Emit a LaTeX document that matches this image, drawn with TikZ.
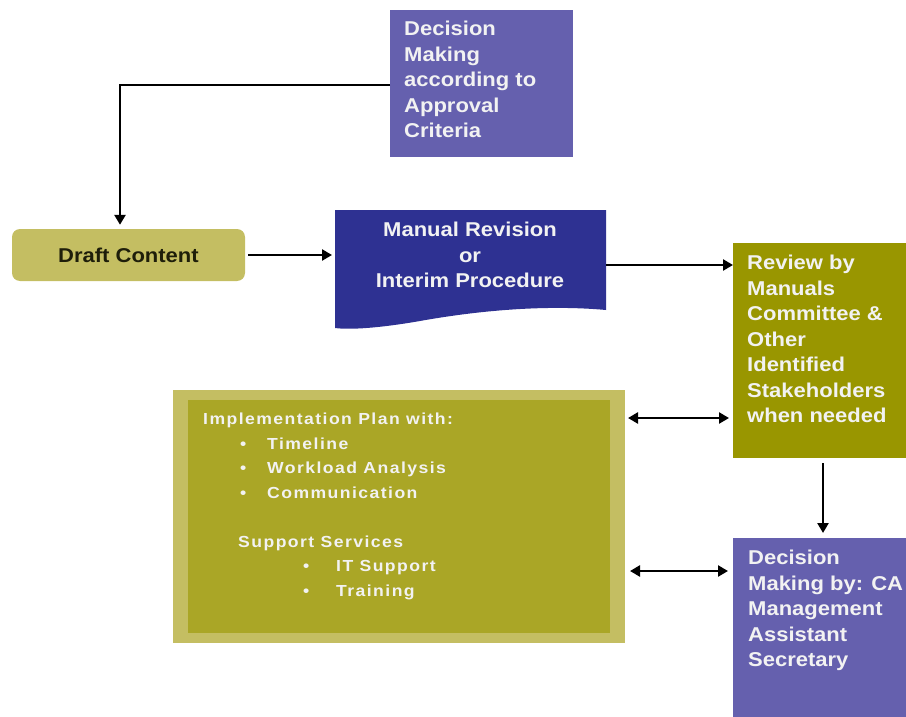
\documentclass[tikz,border=0pt]{standalone}
\usepackage{fontspec}
\setmainfont{Liberation Sans}[FakeStretch=1.1]
\usetikzlibrary{arrows.meta}
\definecolor{purp}{RGB}{101,96,174}
\definecolor{navy}{RGB}{46,49,146}
\definecolor{olivedk}{RGB}{153,150,0}
\definecolor{olivelt}{RGB}{196,190,98}
\definecolor{olivemd}{RGB}{170,166,38}
\definecolor{txtw}{RGB}{242,242,242}
\definecolor{txtd}{RGB}{30,30,10}
\begin{document}
\begin{tikzpicture}[x=1pt,y=-1pt,
  box/.style={inner sep=0pt, outer sep=0pt, draw=none, anchor=north west},
  wtxt/.style={inner sep=0pt, anchor=north west, align=left, text=txtw,
    font=\bfseries\fontsize{20}{25.5}\selectfont},
  arr/.style={line width=2.8pt, -{Triangle[length=10pt,width=11pt]}},
  darr/.style={line width=2.8pt, {Triangle[length=10pt,width=11pt]}-{Triangle[length=10pt,width=11pt]}}]
\useasboundingbox (0,0) rectangle (906,717);
% top decision box
\node[box, fill=purp, minimum width=183pt, minimum height=147pt] (dtop) at (390,10) {};
\node[wtxt] (dtopt) at (404,21) {Decision\\Making\\according to\\Approval\\Criteria};
% draft content
\node[inner sep=0pt, fill=olivelt, rounded corners=8pt, minimum width=233pt, minimum height=52pt,
  text=txtd, font=\bfseries\fontsize{20}{24}\selectfont] (draft) at (128.5,255) {Draft Content};
% manual revision document
\node[box, minimum width=271pt, minimum height=100pt] (man) at (335,210) {};
\fill[navy] (man.north west) -- (man.north east) -- (man.south east)
  .. controls (540,304) and (470,312) .. (420,321)
  .. controls (380,328) and (350,330) .. (335,328) -- cycle;
\node[wtxt, anchor=north, align=center] (mant) at (470,222) {Manual Revision\\or\\Interim Procedure};
% review box
\node[box, fill=olivedk, minimum width=173pt, minimum height=215pt] (rev) at (733,243) {};
\node[wtxt] (revt) at (747,255) {Review by\\Manuals\\Committee \&\\Other\\Identified\\Stakeholders\\when needed};
% implementation plan
\node[box, fill=olivelt, minimum width=452pt, minimum height=253pt] (impl) at (173,390) {};
\node[box, fill=olivemd, minimum width=422pt, minimum height=233pt] (impli) at (188,400) {};
\node[inner sep=0pt, anchor=north west, align=left, text=txtw,
  font=\bfseries\fontsize{16}{24.5}\selectfont\addfontfeature{LetterSpace=9}] (implt) at (203,413)
  {Implementation Plan with:\\
   \hspace*{37pt}\makebox[27pt][l]{\textbullet}Timeline\\
   \hspace*{37pt}\makebox[27pt][l]{\textbullet}Workload Analysis\\
   \hspace*{37pt}\makebox[27pt][l]{\textbullet}Communication\\
   \mbox{}\\
   \hspace*{35pt}Support Services\\
   \hspace*{100pt}\makebox[33pt][l]{\textbullet}IT Support\\
   \hspace*{100pt}\makebox[33pt][l]{\textbullet}Training};
% bottom decision box
\node[box, fill=purp, minimum width=173pt, minimum height=179pt] (dbot) at (733,538) {};
\node[wtxt] (dbott) at (748,550) {Decision\\Making by: CA\\Management\\Assistant\\Secretary};
% connectors
\coordinate (ya) at (0,418);
\coordinate (yb) at (0,571);
\coordinate (xk) at (120,0);
\draw[arr, shorten >=4pt] ([yshift=-1.5pt]dtop.west) -| (xk |- draft.north);
\draw[arr, shorten <=3pt, shorten >=3pt] (draft.east) -- (draft.east -| man.west);
\draw[arr] ([yshift=-5pt]man.east) -- ([yshift=-5pt]man.east -| rev.west);
\draw[darr, shorten <=3pt, shorten >=4pt] (impl.east |- ya) -- (rev.west |- ya);
\draw[darr, shorten <=5pt, shorten >=5pt] (impl.east |- yb) -- (dbot.west |- yb);
\draw[arr, shorten <=5pt, shorten >=5pt] ([xshift=3.5pt]rev.south) -- ([xshift=3.5pt]dbot.north);
\end{tikzpicture}
\end{document}
